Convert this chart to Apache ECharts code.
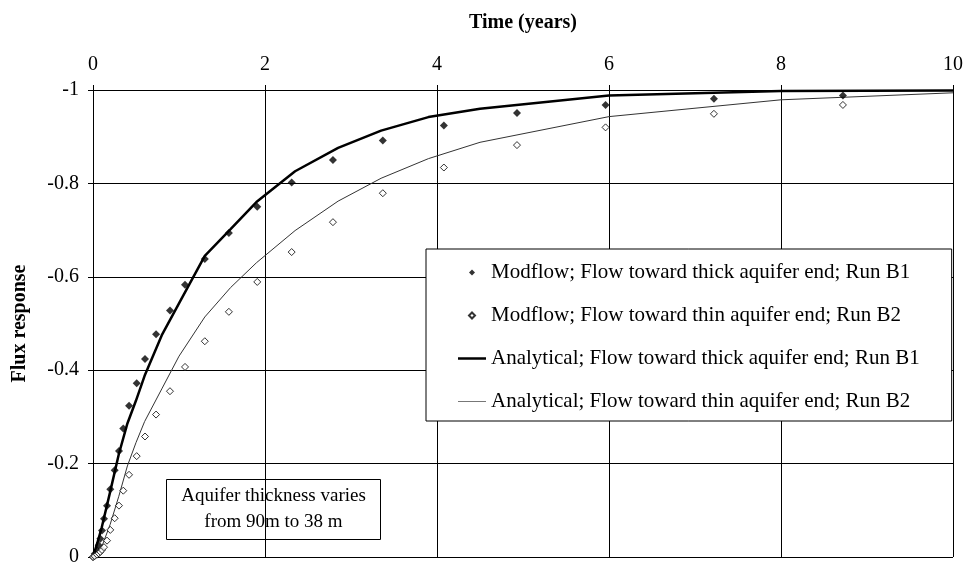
<!DOCTYPE html>
<html>
<head>
<meta charset="utf-8">
<script src="https://cdn.jsdelivr.net/npm/echarts@6/dist/echarts.min.js"></script>
<style>html,body{margin:0;padding:0;background:#fff}#chart{width:968px;height:567px}</style>
</head>
<body>
<div id="chart"></div>
<script>
// Time (years) of the Modflow output steps
const timeModflow = [0, 0.02, 0.047, 0.066, 0.085, 0.105, 0.128, 0.163, 0.201, 0.252, 0.302, 0.352, 0.419, 0.508, 0.605, 0.733, 0.895, 1.07, 1.30, 1.58, 1.91, 2.31, 2.79, 3.37, 4.08, 4.93, 5.96, 7.22, 8.72];
const modflowB1 = [0, -0.007, -0.014, -0.025, -0.039, -0.057, -0.082, -0.110, -0.145, -0.186, -0.227, -0.275, -0.324, -0.372, -0.424, -0.477, -0.528, -0.583, -0.638, -0.694, -0.750, -0.802, -0.850, -0.892, -0.924, -0.951, -0.968, -0.981, -0.988];
const modflowB2 = [0, -0.002, -0.005, -0.008, -0.011, -0.015, -0.021, -0.035, -0.058, -0.083, -0.110, -0.142, -0.176, -0.216, -0.258, -0.305, -0.355, -0.407, -0.462, -0.525, -0.589, -0.653, -0.717, -0.779, -0.834, -0.882, -0.920, -0.949, -0.968];
// Analytical solutions
const timeAnalytical = [0, 0.05, 0.1, 0.2, 0.3, 0.4, 0.5, 0.6, 0.8, 1.0, 1.3, 1.6, 1.9, 2.35, 2.85, 3.35, 3.9, 4.5, 6, 8, 10];
const analyticalB1 = [0, -0.03, -0.062, -0.14, -0.22, -0.286, -0.335, -0.388, -0.475, -0.543, -0.645, -0.702, -0.76, -0.826, -0.876, -0.913, -0.942, -0.96, -0.988, -0.998, -0.999];
const analyticalB2 = [0, -0.005, -0.021, -0.07, -0.13, -0.195, -0.245, -0.29, -0.36, -0.43, -0.514, -0.577, -0.63, -0.699, -0.762, -0.811, -0.853, -0.888, -0.943, -0.979, -0.994];

const seriesNames = [
  'Modflow; Flow toward thick aquifer end; Run B1',
  'Modflow; Flow toward thin aquifer end; Run B2',
  'Analytical; Flow toward thick aquifer end; Run B1',
  'Analytical; Flow toward thin aquifer end; Run B2'
];
const xTitle = 'Time (years)';
const yTitle = 'Flux response';
const noteText = 'Aquifer thickness varies\nfrom 90m to 38 m';

const FONT = '"Liberation Serif", "Times New Roman", serif';
const zip = (xs, ys) => xs.map((x, i) => [x, ys[i]]);
// legend icons drawn inside a 28x7 box
const legendDiamond = 'path://M0,0M28,7M14,0.5L17,3.5L14,6.5L11,3.5Z';
const legendThickLine = 'path://M0,0M28,7M0,2.25L28,2.25L28,4.75L0,4.75Z';
const legendThinLine = 'path://M0,0M28,7M0,3L28,3L28,4L0,4Z';

const chart = echarts.init(document.getElementById('chart'), null, {renderer: 'canvas'});
chart.setOption({
  animation: false,
  backgroundColor: '#fff',
  grid: {left: 93, right: 15, top: 90, bottom: 7},
  xAxis: {
    type: 'value', position: 'top', min: 0, max: 10, interval: 2,
    name: xTitle, nameLocation: 'middle', nameGap: 57,
    nameTextStyle: {fontFamily: FONT, fontWeight: 'bold', fontSize: 20, color: '#000'},
    axisLine: {show: true, onZero: false, lineStyle: {color: '#000', width: 1}},
    axisTick: {show: true, length: 5, lineStyle: {color: '#000'}},
    axisLabel: {fontFamily: FONT, fontSize: 20, color: '#000', margin: 15},
    splitLine: {show: true, lineStyle: {color: '#000', width: 1}}
  },
  yAxis: {
    type: 'value', inverse: true, min: -1, max: 0, interval: 0.2,
    name: yTitle, nameLocation: 'middle', nameGap: 63, nameRotate: 90,
    nameTextStyle: {fontFamily: FONT, fontWeight: 'bold', fontSize: 20, color: '#000'},
    axisLine: {show: true, onZero: false, lineStyle: {color: '#000', width: 1}},
    axisTick: {show: true, length: 5, lineStyle: {color: '#000'}},
    axisLabel: {fontFamily: FONT, fontSize: 20, color: '#000', margin: 14},
    splitLine: {show: true, lineStyle: {color: '#000', width: 1}}
  },
  legend: {
    orient: 'vertical', left: 426, top: 249,
    backgroundColor: '#fff', borderColor: '#000', borderWidth: 1, borderRadius: 0,
    padding: [13, 32, 9, 31], itemGap: 22, itemWidth: 28, itemHeight: 7,
    textStyle: {fontFamily: FONT, fontSize: 21, color: '#000'},
    data: [
      {name: seriesNames[0], icon: legendDiamond},
      {name: seriesNames[1], icon: legendDiamond},
      {name: seriesNames[2], icon: legendThickLine},
      {name: seriesNames[3], icon: legendThinLine}
    ]
  },
  graphic: [{
    type: 'group', left: 166, top: 479, z: 10,
    children: [
      {type: 'rect', shape: {x: 0, y: 0, width: 214, height: 60}, style: {fill: '#fff', stroke: '#000', lineWidth: 1}},
      {type: 'text', x: 107, y: 30, style: {text: noteText, font: '19px ' + FONT, fill: '#000', align: 'center', verticalAlign: 'middle', lineHeight: 26}}
    ]
  }],
  series: [
    {name: seriesNames[2], type: 'line', data: zip(timeAnalytical, analyticalB1), symbol: 'none', smooth: false,
     lineStyle: {color: '#000', width: 2.5}, itemStyle: {color: '#000'}, z: 2},
    {name: seriesNames[3], type: 'line', data: zip(timeAnalytical, analyticalB2), symbol: 'none', smooth: false,
     lineStyle: {color: '#333', width: 1}, itemStyle: {color: '#777'}, z: 2},
    {name: seriesNames[0], type: 'scatter', data: zip(timeModflow, modflowB1), symbol: 'diamond', symbolSize: 8,
     itemStyle: {color: '#000'}, z: 3},
    {name: seriesNames[1], type: 'scatter', data: zip(timeModflow, modflowB2), symbol: 'diamond', symbolSize: 7,
     itemStyle: {color: '#fff', borderColor: '#000', borderWidth: 1}, z: 3}
  ]
});
</script>
</body>
</html>
